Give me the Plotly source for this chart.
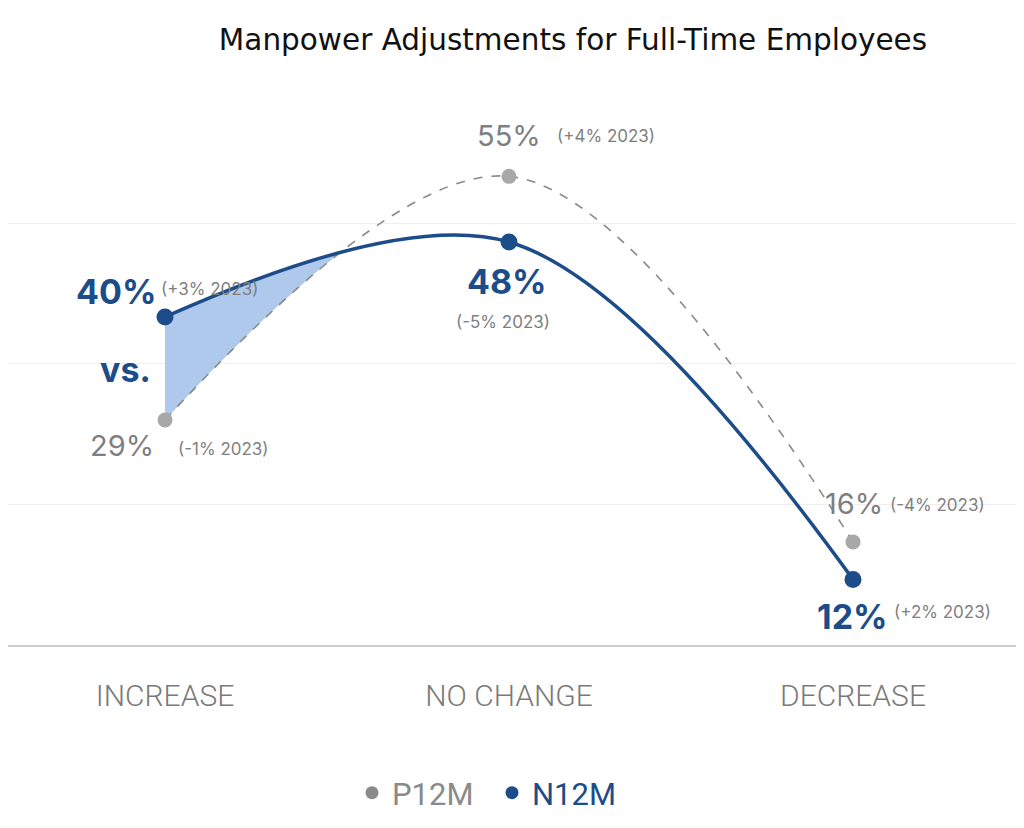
import numpy as np
import plotly.graph_objects as go

categories = ["INCREASE", "NO CHANGE", "DECREASE"]
p12m = [29, 55, 16]
n12m = [40, 48, 12]
p12m_delta = ["(-1% 2023)", "(+4% 2023)", "(-4% 2023)"]
n12m_delta = ["(+3% 2023)", "(-5% 2023)", "(+2% 2023)"]

BLUE = "#1d4c8a"
GRAY_DOT = "#a8a8a8"
GRAY_LINE = "#8a8a8a"
GRAY_TXT = "#7f7f7f"
FILL = "rgba(165,195,234,0.9)"

# the page body adds an 8px offset, so the figure is 8px smaller in each direction
W, H = 1016, 820
M_L, M_R, M_T, M_B = 0, 0, 84, 183
XR = [-157 / 344, -157 / 344 + 1016 / 344]
YR = [5, 64]
PW, PH = W - M_L - M_R, H - M_T - M_B

xs = list(range(len(categories)))


# replicate plotly's spline (smoothing=1) in pixel space to build the fill region
def to_px(x, y):
    return np.array([(x - XR[0]) / (XR[1] - XR[0]) * PW, (YR[1] - y) / (YR[1] - YR[0]) * PH])


def to_data(p):
    return (p[0] / PW * (XR[1] - XR[0]) + XR[0], YR[1] - p[1] / PH * (YR[1] - YR[0]))


def tangent(p0, p1, p2, s=1.0):
    d1 = p0 - p1
    d2 = p2 - p1
    d1a = np.hypot(*d1) ** 0.5
    d2a = np.hypot(*d2) ** 0.5
    num = (d2a * d2a * d1 - d1a * d1a * d2) * s
    den1 = 3 * d2a * (d1a + d2a)
    den2 = 3 * d1a * (d1a + d2a)
    return p1 + num / den1, p1 - num / den2


def first_segment(vals, n=400):
    pts = [to_px(x, v) for x, v in zip(xs, vals)]
    c0, _ = tangent(pts[0], pts[1], pts[2])
    t = np.linspace(0, 1, n)[:, None]
    return (1 - t) ** 2 * pts[0] + 2 * (1 - t) * t * c0 + t ** 2 * pts[1]


cb = first_segment(n12m)
cg = first_segment(p12m)
gx = np.linspace(to_px(0, 0)[0], to_px(1, 0)[0], 800)
by = np.interp(gx, cb[:, 0], cb[:, 1])
gy = np.interp(gx, cg[:, 0], cg[:, 1])
mask = by <= gy  # blue above gray in pixel space
idx = np.argmax(~mask) if (~mask).any() else len(gx)
fx = gx[:idx]
poly_px = np.concatenate([np.c_[fx, by[:idx]], np.c_[fx[::-1], gy[:idx][::-1]]])
poly = [to_data(p) for p in poly_px]

fig = go.Figure()
fig.add_trace(go.Scatter(
    x=[p[0] for p in poly], y=[p[1] for p in poly], mode="lines", fill="toself",
    fillcolor=FILL, line=dict(width=0), showlegend=False, hoverinfo="skip"))
fig.add_trace(go.Scatter(
    x=xs, y=p12m, mode="lines+markers", line=dict(color=GRAY_LINE, width=1.6, dash="dash", shape="spline"),
    marker=dict(color=GRAY_DOT, size=15), showlegend=False))
fig.add_trace(go.Scatter(
    x=xs, y=n12m, mode="lines+markers", line=dict(color=BLUE, width=3.5, shape="spline"),
    marker=dict(color=BLUE, size=17), showlegend=False))
# legend entries (dot only)
fig.add_trace(go.Scatter(x=[None], y=[None], mode="markers", marker=dict(color=GRAY_LINE, size=13),
                         name="<span style='color:#8a8a8a'>P12M</span>"))
fig.add_trace(go.Scatter(x=[None], y=[None], mode="markers", marker=dict(color=BLUE, size=13),
                         name="<span style='color:#1d4c8a'>N12M</span>"))

big_font = "Inter"
ann = []


def add(x, y, text, size, color, bold, xanchor, xshift, yshift):
    ann.append(dict(x=x, y=y, xref="x", yref="y", text=text, showarrow=False,
                    font=dict(family=big_font, size=size, color=color, weight=700 if bold else 400),
                    xanchor=xanchor, yanchor="middle", xshift=xshift, yshift=yshift))


# INCREASE
add(0, n12m[0], f"{n12m[0]}%", 34, BLUE, True, "right", -7, 25)
add(0, n12m[0], n12m_delta[0], 17, GRAY_TXT, False, "left", -6, 28)
add(0, p12m[0], "vs.", 34, BLUE, True, "right", -12, 51)
add(0, p12m[0], f"{p12m[0]}%", 29, GRAY_TXT, False, "right", -9, -25)
add(0, p12m[0], p12m_delta[0], 17, GRAY_TXT, False, "left", 11, -29)
# NO CHANGE
add(1, p12m[1], f"{p12m[1]}%", 29, GRAY_TXT, False, "center", 0, 41)
add(1, p12m[1], p12m_delta[1], 17, GRAY_TXT, False, "left", 46, 40)
add(1, n12m[1], f"{n12m[1]}%", 34, BLUE, True, "center", -2, -40)
add(1, n12m[1], n12m_delta[1], 17, GRAY_TXT, False, "center", -6, -80)
# DECREASE
add(2, p12m[2], f"{p12m[2]}%", 29, GRAY_TXT, False, "center", 1, 38)
add(2, p12m[2], p12m_delta[2], 17, GRAY_TXT, False, "left", 35, 37)
add(2, n12m[2], f"{n12m[2]}%", 34, BLUE, True, "center", -1, -37)
add(2, n12m[2], n12m_delta[2], 17, GRAY_TXT, False, "left", 39, -33)

fig.update_layout(
    width=W, height=H,
    margin=dict(l=M_L, r=M_R, t=M_T, b=M_B),
    paper_bgcolor="white", plot_bgcolor="white",
    title=dict(text="Manpower Adjustments for Full-Time Employees", x=565 / W, xanchor="center",
               y=1 - 32 / H, yanchor="middle",
               font=dict(family="DejaVu Sans", size=29.5, color="#111111")),
    xaxis=dict(range=XR, tickmode="array", tickvals=xs, ticktext=categories, showgrid=False,
               zeroline=False, showline=True, linecolor="#cccccc", linewidth=2,
               ticks="", ticklabelstandoff=23,
               tickfont=dict(family="Roboto", size=30, color="#7a7a7a", weight=300)),
    yaxis=dict(range=YR, tick0=5, dtick=15, showgrid=True, gridcolor="#efefef", gridwidth=1,
               zeroline=False, showticklabels=False, showline=False),
    legend=dict(orientation="h", x=484 / W, xanchor="center", y=(637 - 785) / PH, yanchor="middle",
                font=dict(family="Roboto", size=31), itemsizing="trace", entrywidth=95),
    annotations=ann,
    showlegend=True,
)

fig.write_html("out.html")
